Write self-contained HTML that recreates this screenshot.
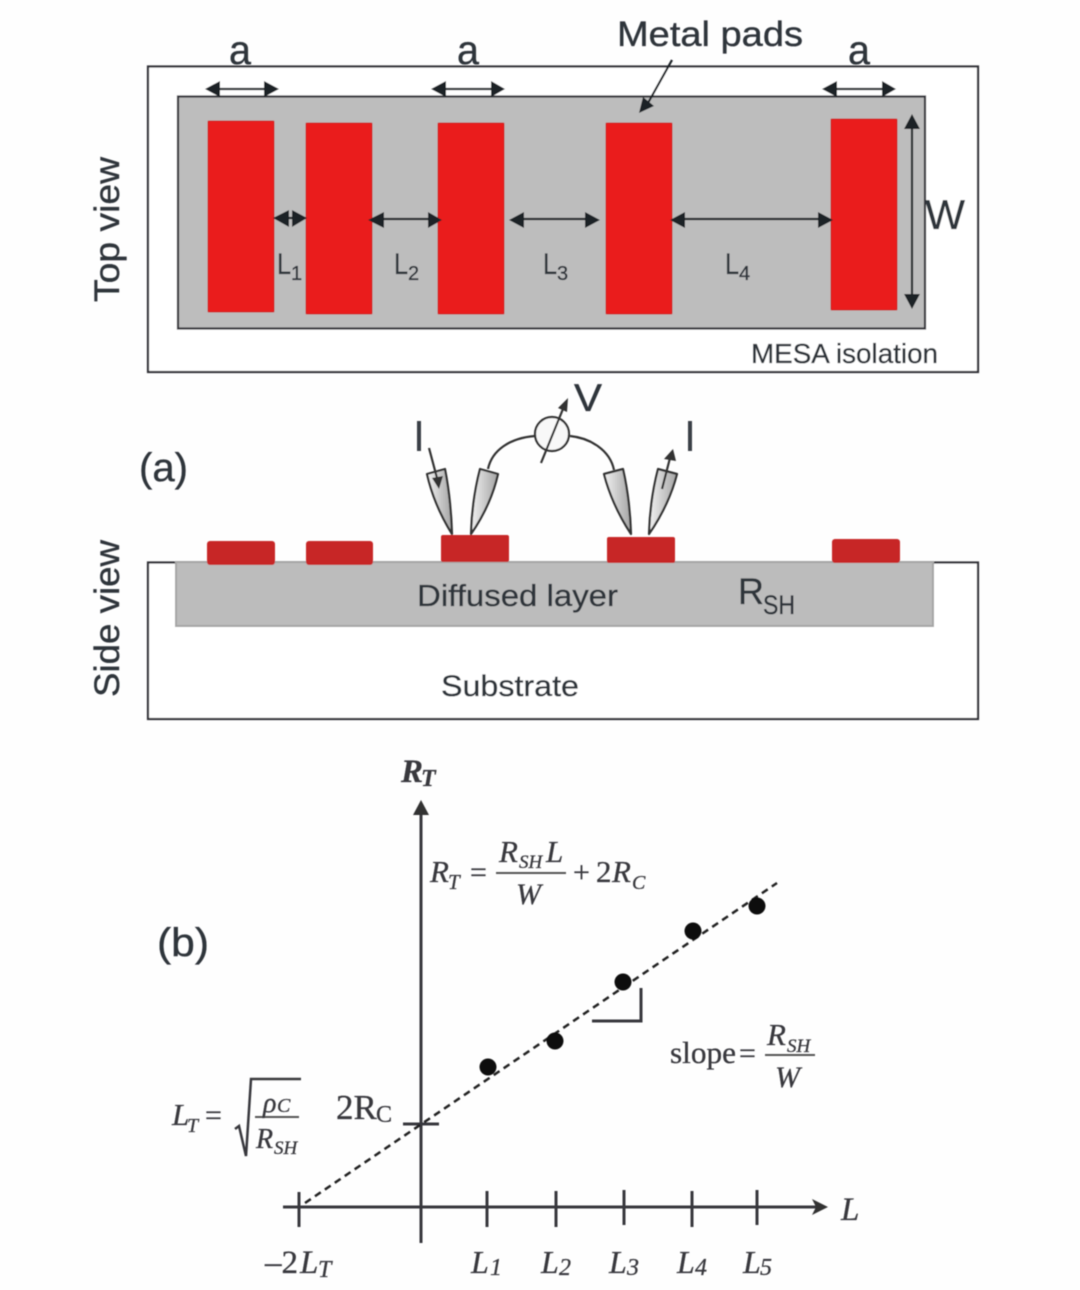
<!DOCTYPE html>
<html><head><meta charset="utf-8">
<style>
html,body{margin:0;padding:0;background:#fff;width:1080px;height:1290px;overflow:hidden}
svg{display:block}
.s{font-family:"Liberation Sans",sans-serif;fill:#2f343b;stroke:#2f343b;stroke-width:.35px}
.m{font-family:"Liberation Serif",serif;fill:#38383d;stroke:#38383d;stroke-width:.3px}
.i{font-style:italic}
</style></head>
<body>
<svg width="1080" height="1290" viewBox="0 0 1080 1290" xmlns="http://www.w3.org/2000/svg">
<defs>
<filter id="b" x="-5%" y="-5%" width="110%" height="110%"><feGaussianBlur stdDeviation="0.55"/></filter>
<linearGradient id="pr" x1="0" x2="1" y1="0" y2="0"><stop offset="0" stop-color="#f2f2f2"/><stop offset="1" stop-color="#a4a4a4"/></linearGradient>
</defs>
<rect width="1080" height="1290" fill="#fefefe"/>
<g filter="url(#b)">
<!-- top view -->
<rect x="148" y="66.500" width="830" height="305.500" fill="#fff" stroke="#333338" stroke-width="2.200"/>
<rect x="178" y="96.500" width="747" height="232" fill="#bdbdbd" stroke="#333338" stroke-width="2.200"/>
<g fill="#ea1f1f" stroke="#c92222" stroke-width="1">
<rect x="208" y="121" width="66" height="191" rx="1"/>
<rect x="306" y="123" width="66" height="191" rx="1"/>
<rect x="438" y="123" width="66" height="191" rx="1"/>
<rect x="606" y="123" width="66" height="191" rx="1"/>
<rect x="831" y="119" width="66" height="191" rx="1"/>
</g>
<!-- a arrows -->
<g stroke="#1d2226" stroke-width="2.200" fill="#1d2226">
<line x1="215" y1="89" x2="268" y2="89"/><path d="M205 89L220 81V97ZM279 89L264 81V97Z" stroke="none"/>
<line x1="442" y1="89" x2="495" y2="89"/><path d="M431 89L446 81V97ZM505 89L491 81V97Z" stroke="none"/>
<line x1="833" y1="89" x2="886" y2="89"/><path d="M822 89L837 81V97ZM896 89L882 81V97Z" stroke="none"/>
<!-- L arrows -->
<line x1="280" y1="218" x2="300" y2="218"/><path d="M273 218L289 210V227ZM307 218L292 210V227Z" stroke="none"/>
<line x1="375" y1="219" x2="436" y2="219"/><path d="M368 220L384 212V228ZM442 220L428 212V228Z" stroke="none"/>
<line x1="515" y1="219" x2="594" y2="219"/><path d="M509 220L524 212V228ZM600 220L585 212V228Z" stroke="none"/>
<line x1="676" y1="219" x2="826" y2="219"/><path d="M670 220L685 212V228ZM833 220L818 212V228Z" stroke="none"/>
<!-- W arrow -->
<line x1="912" y1="125" x2="912" y2="300"/><path d="M912 114L904 129H920ZM912 309L904 294H920Z" stroke="none"/>
<!-- metal pads pointer -->
<line x1="672" y1="60" x2="648" y2="103"/><path d="M639 113L643 97L654 106Z" stroke="none"/>
</g>
<g class="s">
<text x="229" y="64" font-size="41" textLength="22" lengthAdjust="spacingAndGlyphs">a</text>
<text x="457" y="64" font-size="41" textLength="22" lengthAdjust="spacingAndGlyphs">a</text>
<text x="848" y="64" font-size="41" textLength="22" lengthAdjust="spacingAndGlyphs">a</text>
<text x="617" y="46" font-size="35" textLength="186" lengthAdjust="spacingAndGlyphs">Metal pads</text>
<text x="277" y="274" font-size="30" textLength="14" lengthAdjust="spacingAndGlyphs">L</text><text x="291" y="280" font-size="20">1</text>
<text x="394" y="274" font-size="30" textLength="14" lengthAdjust="spacingAndGlyphs">L</text><text x="408" y="280" font-size="20">2</text>
<text x="543" y="274" font-size="30" textLength="14" lengthAdjust="spacingAndGlyphs">L</text><text x="557" y="280" font-size="20">3</text>
<text x="725" y="274" font-size="30" textLength="14" lengthAdjust="spacingAndGlyphs">L</text><text x="739" y="280" font-size="20">4</text>
<text x="925" y="229" font-size="42" textLength="40" lengthAdjust="spacingAndGlyphs">W</text>
<text x="751" y="363" font-size="28" textLength="187" lengthAdjust="spacingAndGlyphs">MESA isolation</text>
<text transform="translate(119,302) rotate(-90)" font-size="35" textLength="145" lengthAdjust="spacingAndGlyphs">Top view</text>
<text transform="translate(119,697) rotate(-90)" font-size="35" textLength="157" lengthAdjust="spacingAndGlyphs">Side view</text>
<text x="139" y="481" font-size="40" textLength="49" lengthAdjust="spacingAndGlyphs">(a)</text>
<text x="157" y="956" font-size="40" textLength="52" lengthAdjust="spacingAndGlyphs">(b)</text>
<text x="574" y="411" font-size="39" textLength="28" lengthAdjust="spacingAndGlyphs">V</text>
</g>
<rect x="417" y="421" width="4" height="30" fill="#3a3f47"/>
<rect x="688" y="421" width="4" height="30" fill="#3a3f47"/>
<!-- side view -->
<rect x="148" y="562.500" width="830" height="156.500" fill="#fff" stroke="#333338" stroke-width="2.200"/>
<rect x="176" y="562" width="757" height="64" fill="#bcbcbc" stroke="#a5a5a5" stroke-width="2"/>
<g fill="#c72626">
<rect x="207" y="541" width="68" height="24" rx="3"/>
<rect x="306" y="541" width="67" height="24" rx="3"/>
<rect x="441" y="535" width="68" height="27" rx="2"/>
<rect x="607" y="537" width="68" height="26" rx="2"/>
<rect x="832" y="539" width="68" height="24" rx="3"/>
</g>
<g class="s">
<text x="417" y="606" font-size="31" textLength="201" lengthAdjust="spacingAndGlyphs">Diffused layer</text>
<text x="738" y="604" font-size="37" textLength="26" lengthAdjust="spacingAndGlyphs">R</text>
<text x="763" y="614" font-size="27" textLength="32" lengthAdjust="spacingAndGlyphs">SH</text>
<text x="441" y="696" font-size="30" textLength="138" lengthAdjust="spacingAndGlyphs">Substrate</text>
</g>
<!-- probes -->
<g fill="url(#pr)" stroke="#333" stroke-width="2.200" stroke-linejoin="round">
<path d="M427 474L445 469Q451 500 452 534Q434 505 427 474Z"/>
<path d="M480 469L498 474Q491 505 471 534Q472 500 480 469Z"/>
<path d="M604 474L623 469Q630 500 631 534Q612 505 604 474Z"/>
<path d="M658 469L677 474Q669 505 649 534Q650 500 658 469Z"/>
</g>
<g fill="none" stroke="#333" stroke-width="2.200">
<path d="M488 469C492 450 510 438 535 436"/>
<path d="M570 436C590 438 610 450 614 470"/>
<circle cx="552" cy="434" r="17" fill="#f8f8f8"/>
<line x1="541" y1="463" x2="565" y2="404"/>
<line x1="429" y1="448" x2="437" y2="478"/>
<line x1="662" y1="489" x2="670" y2="458"/>
</g>
<path d="M568 398L558 408L567 412ZM439 489L432 478L443 476ZM673 449L664 459L676 461Z" fill="#333"/>
<!-- chart -->
<g stroke="#38383d" stroke-width="3" fill="none">
<line x1="421" y1="812" x2="421" y2="1243"/>
<line x1="283" y1="1207" x2="818" y2="1207"/>
<line x1="299" y1="1192" x2="299" y2="1227"/>
<line x1="487" y1="1191" x2="487" y2="1227"/>
<line x1="556" y1="1191" x2="556" y2="1227"/>
<line x1="624" y1="1190" x2="624" y2="1225"/>
<line x1="692" y1="1191" x2="692" y2="1227"/>
<line x1="757" y1="1190" x2="757" y2="1225"/>
<line x1="403" y1="1124" x2="439" y2="1124"/>
<path d="M592 1021H641V988"/>
<path d="M235 1129L239 1126L246 1156L251 1079H301" stroke-width="2.500"/>
</g>
<path d="M421 800L413 815H429ZM828 1207L812 1199L816 1207L812 1215Z" fill="#333"/>
<line x1="305" y1="1203" x2="777" y2="883" stroke="#222" stroke-width="2.500" stroke-dasharray="7 5"/>
<g fill="#111">
<circle cx="488" cy="1067" r="8.500"/><circle cx="555" cy="1041" r="8.500"/><circle cx="623" cy="982" r="8.500"/><circle cx="693" cy="931" r="8.500"/><circle cx="757" cy="906" r="8.500"/>
</g>
<g stroke="#555" stroke-width="2">
<line x1="496" y1="873" x2="566" y2="873"/>
<line x1="765" y1="1055" x2="815" y2="1055"/>
<line x1="255" y1="1117" x2="299" y2="1117"/>
</g>
<g class="m">
<text x="401" y="782" font-size="33" font-weight="bold" class="m i">R</text><text x="421" y="786" font-size="24" class="m i" font-weight="bold">T</text>
<text x="430" y="882" font-size="31" class="m i">R</text><text x="448" y="889" font-size="21" class="m i">T</text>
<text x="470" y="882" font-size="30">=</text>
<text x="499" y="862" font-size="31" class="m i">R</text><text x="519" y="868" font-size="19" class="m i">SH</text><text x="546" y="862" font-size="31" class="m i">L</text>
<text x="516" y="904" font-size="30" class="m i">W</text>
<text x="573" y="882" font-size="30">+</text><text x="596" y="882" font-size="31">2</text><text x="612" y="882" font-size="31" class="m i">R</text><text x="632" y="889" font-size="20" class="m i">C</text>
<text x="670" y="1063" font-size="31" textLength="66" lengthAdjust="spacingAndGlyphs">slope</text><text x="739" y="1063" font-size="30">=</text>
<text x="767" y="1045" font-size="31" class="m i">R</text><text x="787" y="1052" font-size="19" class="m i">SH</text>
<text x="775" y="1087" font-size="30" class="m i">W</text>
<text x="172" y="1125" font-size="31" class="m i">L</text><text x="187" y="1132" font-size="20" class="m i">T</text><text x="205" y="1125" font-size="30">=</text>
<text x="263" y="1112" font-size="28" class="m i">ρ</text><text x="277" y="1112" font-size="20" class="m i">C</text>
<text x="256" y="1148" font-size="28" class="m i">R</text><text x="274" y="1154" font-size="19" class="m i">SH</text>
<text x="336" y="1119" font-size="35">2R</text><text x="376" y="1122" font-size="24">C</text>
<text x="265" y="1273" font-size="33">–2</text><text x="300" y="1273" font-size="33" class="m i">L</text><text x="318" y="1277" font-size="24" class="m i">T</text>
<text x="471" y="1273" font-size="32" class="m i">L</text><text x="490" y="1275" font-size="24" class="m i">1</text>
<text x="541" y="1273" font-size="32" class="m i">L</text><text x="559" y="1275" font-size="24" class="m i">2</text>
<text x="609" y="1273" font-size="32" class="m i">L</text><text x="627" y="1275" font-size="24" class="m i">3</text>
<text x="677" y="1273" font-size="32" class="m i">L</text><text x="695" y="1275" font-size="24" class="m i">4</text>
<text x="743" y="1273" font-size="32" class="m i">L</text><text x="760" y="1275" font-size="24" class="m i">5</text>
<text x="841" y="1220" font-size="33" class="m i">L</text>
</g>
</g>
</svg>
</body></html>
